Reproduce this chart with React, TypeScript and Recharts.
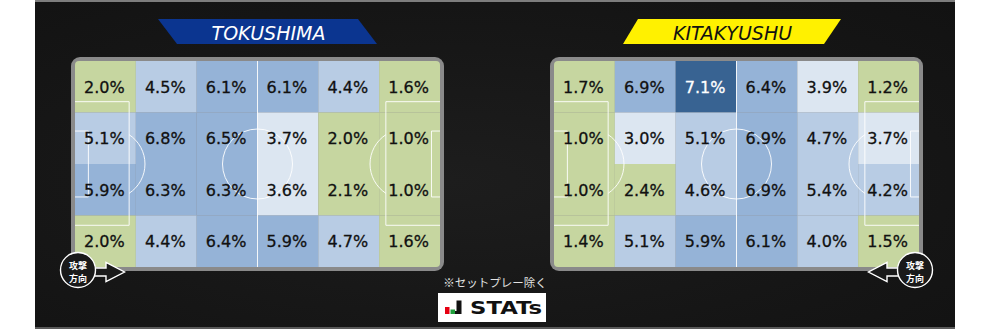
import React from "react";
import {
  ScatterChart,
  Scatter,
  XAxis,
  YAxis,
  ReferenceArea,
  ReferenceLine,
  ReferenceDot,
} from "recharts";

const teams = ["TOKUSHIMA", "KITAKYUSHU"];

// zone shares (%), rows top -> bottom, columns left -> right as drawn
const tokushimaShares = [
  [2.0, 4.5, 6.1, 6.1, 4.4, 1.6],
  [5.1, 6.8, 6.5, 3.7, 2.0, 1.0],
  [5.9, 6.3, 6.3, 3.6, 2.1, 1.0],
  [2.0, 4.4, 6.4, 5.9, 4.7, 1.6],
];

const kitakyushuShares = [
  [1.7, 6.9, 7.1, 6.4, 3.9, 1.2],
  [1.0, 3.0, 5.1, 6.9, 4.7, 3.7],
  [1.0, 2.4, 4.6, 6.9, 5.4, 4.2],
  [1.4, 5.1, 5.9, 6.1, 4.0, 1.5],
];

const PITCH_W = 365;
const PITCH_H = 206;
const COLS = 6;
const ROWS = 4;
const UNIT_X = PITCH_W / COLS;

// pitch markings in zone units
const PEN_DEPTH = 0.89;
const PEN_TOP = 0.79;
const PEN_BOTTOM = 3.19;
const GOAL_TOP = 1.36;
const GOAL_BOTTOM = 2.64;
const SPOT = 0.575;
const CIRCLE_R = 35;
const LINE = "rgba(255,255,255,0.9)";

type Pt = [number, number];

function polyline(points: Pt[]): [Pt, Pt][] {
  return points.slice(1).map((p, i) => [points[i], p] as [Pt, Pt]);
}

const markings: [Pt, Pt][] = [
  ...polyline([[0, PEN_TOP], [PEN_DEPTH, PEN_TOP], [PEN_DEPTH, PEN_BOTTOM], [0, PEN_BOTTOM]]),
  ...polyline([[0, GOAL_TOP], [0.22, GOAL_TOP], [0.22, GOAL_BOTTOM], [0, GOAL_BOTTOM]]),
  ...polyline([[COLS, PEN_TOP], [COLS - PEN_DEPTH, PEN_TOP], [COLS - PEN_DEPTH, PEN_BOTTOM], [COLS, PEN_BOTTOM]]),
  ...polyline([[COLS, GOAL_TOP], [COLS - 0.14, GOAL_TOP], [COLS - 0.14, GOAL_BOTTOM], [COLS, GOAL_BOTTOM]]),
  [[COLS / 2, 0], [COLS / 2, ROWS]],
];

function cellColor(v: number) {
  if (v >= 7) return "#386392";
  if (v >= 5.5) return "#95b3d7";
  if (v >= 4) return "#b8cce4";
  if (v >= 3) return "#dce6f1";
  return "#c6d6a0";
}

const ZoneLabel = (props: any) => {
  const v = props.payload.v as number;
  const color = v >= 7 ? "#ffffff" : "#111111";
  return (
    <text
      x={props.cx - 1}
      y={props.cy + 6}
      textAnchor="middle"
      fontFamily="DejaVu Sans"
      fontSize={16}
      fill={color}
      stroke={color}
      strokeWidth={0.3}
    >
      {v.toFixed(1)}%
    </text>
  );
};

const penaltyArc = (dir: 1 | -1) => (props: any) => {
  const r = props.r ?? CIRCLE_R;
  const off = (PEN_DEPTH - SPOT) * UNIT_X;
  const h = Math.sqrt(r * r - off * off);
  const x = props.cx + dir * off;
  return (
    <path
      d={`M${x},${props.cy - h} A${r},${r} 0 0 ${dir > 0 ? 1 : 0} ${x},${props.cy + h}`}
      fill="none"
      stroke={LINE}
      strokeWidth={1}
    />
  );
};

function Pitch({ shares, left }: { shares: number[][]; left: number }) {
  const cells = shares.flatMap((row, r) =>
    row.map((v, c) => ({ x: c + 0.5, y: r + 0.5, v, c, r }))
  );
  return (
    <>
      <div
        style={{
          position: "absolute",
          left: left - 4,
          top: 57,
          width: PITCH_W + 8,
          height: PITCH_H + 8,
          background: "#8a8a8a",
          borderRadius: 9,
        }}
      />
      <div
        style={{
          position: "absolute",
          left,
          top: 61,
          width: PITCH_W,
          height: PITCH_H,
          borderRadius: 4,
          overflow: "hidden",
        }}
      >
        <ScatterChart width={PITCH_W} height={PITCH_H} margin={{ top: 0, right: 0, bottom: 0, left: 0 }}>
          <XAxis type="number" dataKey="x" domain={[0, COLS]} allowDataOverflow hide />
          <YAxis type="number" dataKey="y" domain={[0, ROWS]} allowDataOverflow reversed hide />
          {cells.map((d) => (
            <ReferenceArea
              key={`cell-${d.r}-${d.c}`}
              x1={d.c}
              x2={d.c + 1}
              y1={d.r}
              y2={d.r + 1}
              fill={cellColor(d.v)}
              fillOpacity={1}
              stroke="none"
              ifOverflow="visible"
            />
          ))}
          {markings.map(([a, b], i) => (
            <ReferenceLine
              key={`line-${i}`}
              segment={[
                { x: a[0], y: a[1] },
                { x: b[0], y: b[1] },
              ]}
              stroke={LINE}
              strokeWidth={1}
              ifOverflow="visible"
            />
          ))}
          <ReferenceDot x={COLS / 2} y={ROWS / 2} r={CIRCLE_R} fill="none" stroke={LINE} strokeWidth={1} ifOverflow="visible" />
          <ReferenceDot x={SPOT} y={ROWS / 2} r={CIRCLE_R} shape={penaltyArc(1)} ifOverflow="visible" />
          <ReferenceDot x={COLS - SPOT} y={ROWS / 2} r={CIRCLE_R} shape={penaltyArc(-1)} ifOverflow="visible" />
          <Scatter data={cells} isAnimationActive={false} shape={ZoneLabel} />
        </ScatterChart>
      </div>
    </>
  );
}

function Badge({ cx, dir }: { cx: number; dir: 1 | -1 }) {
  const cy = 270;
  const ay = 272;
  const p = (dx: number, dy: number) => `${cx + dir * dx},${ay + dy}`;
  const arrow = [p(12, -4), p(28, -4), p(28, -9.5), p(46.5, 0), p(28, 9.5), p(28, 4), p(12, 4)].join(" ");
  return (
    <g>
      <polygon points={arrow} fill="#1a1a1a" stroke="#fff" strokeWidth={1.4} strokeLinejoin="miter" />
      <circle cx={cx} cy={cy} r={17.5} fill="#1a1a1a" stroke="#fff" strokeWidth={1.4} />
      <text x={cx} y={cy - 1} textAnchor="middle" fontFamily="Noto Sans CJK JP" fontWeight={700} fontSize={9} fill="#fff">
        攻撃
      </text>
      <text x={cx} y={cy + 11.5} textAnchor="middle" fontFamily="Noto Sans CJK JP" fontWeight={700} fontSize={9} fill="#fff">
        方向
      </text>
    </g>
  );
}

export default function App() {
  return (
    <div style={{ position: "relative", width: 991, height: 329, background: "#ffffff", overflow: "hidden" }}>
      <style>{"body{margin:0}"}</style>
      <div
        style={{
          position: "absolute",
          left: 35,
          top: 0,
          width: 920,
          height: 329,
          boxSizing: "border-box",
          borderTop: "2px solid #7d7d7d",
          borderBottom: "2px solid #5a5a5a",
          background: "radial-gradient(ellipse at 45% 55%, #1d1d1d 0%, #151515 70%, #121212 100%)",
        }}
      />
      <Pitch shares={tokushimaShares} left={75} />
      <Pitch shares={kitakyushuShares} left={554} />
      <svg width={991} height={329} style={{ position: "absolute", left: 0, top: 0, pointerEvents: "none" }}>
        <polygon points="158,19 358,19 377,44 177,44" fill="#0b3590" />
        <text x={268.5} y={39.5} textAnchor="middle" fontFamily="DejaVu Sans" fontStyle="italic" fontSize={19} fill="#fff">
          {teams[0]}
        </text>
        <polygon points="638,19 841,19 824,44 623,44" fill="#fff100" />
        <text x={732.5} y={39.5} textAnchor="middle" fontFamily="DejaVu Sans" fontStyle="italic" fontSize={19} fill="#111">
          {teams[1]}
        </text>
        <Badge cx={78} dir={1} />
        <Badge cx={915} dir={-1} />
        <text x={495} y={286.5} textAnchor="middle" fontFamily="Noto Sans CJK JP" fontSize={11.5} fill="#e2e2e2">
          ※セットプレー除く
        </text>
        <rect x={438} y={293} width={108} height={29} fill="#fff" />
        <rect x={445} y={307} width={4.5} height={7} fill="#e60012" />
        <rect x={450.5} y={309.5} width={4.5} height={4.5} fill="#1f9e3a" />
        <rect x={456.5} y={300.5} width={5} height={13.5} fill="#111" />
        <rect x={455} y={311} width={2} height={3} fill="#111" />
        <text x={470} y={314} fontFamily="DejaVu Sans" fontWeight={700} fontSize={17.5} fill="#111" textLength={72} lengthAdjust="spacingAndGlyphs">
          STATs
        </text>
      </svg>
    </div>
  );
}
